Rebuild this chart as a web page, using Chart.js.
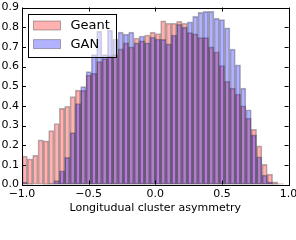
<!DOCTYPE html>
<html>
<head>
<meta charset="utf-8">
<script src="https://cdn.jsdelivr.net/npm/chart.js@4.4.0/dist/chart.umd.min.js"></script>
<style>
  html, body { margin: 0; padding: 0; background: #fff; }
  #wrap { width: 296px; height: 240px; }
</style>
</head>
<body>
<div id="wrap"><canvas id="histChart" width="296" height="240"></canvas></div>
<script>
// histogram bins: 50 bins of width 0.04 from -1 to 1
const binStart = -1.0;
const binWidth = 0.04;
const seriesNames = ['Geant', 'GAN'];

const geantValues = [
  0.145, 0.130, 0.148, 0.227, 0.222, 0.274, 0.310, 0.387, 0.398, 0.447,
  0.480, 0.479, 0.556, 0.565, 0.625, 0.640, 0.655, 0.660, 0.690, 0.720,
  0.700, 0.745, 0.730, 0.760, 0.775, 0.768, 0.832, 0.820, 0.820, 0.830,
  0.820, 0.772, 0.766, 0.747, 0.747, 0.700, 0.675, 0.605, 0.525, 0.490,
  0.460, 0.400, 0.337, 0.281, 0.196, 0.102, 0.053, 0.013, 0.005, 0.000
];
const ganValues = [
  0.012, 0.003, 0.000, 0.000, 0.002, 0.005, 0.020, 0.070, 0.138, 0.264,
  0.412, 0.498, 0.574, 0.660, 0.780, 0.660, 0.785, 0.740, 0.775, 0.765,
  0.775, 0.720, 0.755, 0.720, 0.750, 0.740, 0.738, 0.715, 0.760, 0.815,
  0.800, 0.827, 0.855, 0.875, 0.880, 0.880, 0.845, 0.838, 0.796, 0.688,
  0.608, 0.490, 0.380, 0.252, 0.141, 0.048, 0.013, 0.003, 0.000, 0.000
];

const xTicks = [-1.0, -0.5, 0.0, 0.5, 1.0];
const yTicks = [0.0, 0.1, 0.2, 0.3, 0.4, 0.5, 0.6, 0.7, 0.8, 0.9];

const binCenters = geantValues.map((_, i) => binStart + binWidth * (i + 0.5));

function toPoints(values) {
  return values.map((v, i) => ({ x: binCenters[i], y: v }));
}

function fmt(v) {
  const s = Math.abs(v).toFixed(1);
  return v < -1e-9 ? '\u2212' + s : s;
}

// frame + inward ticks on all four sides, like matplotlib classic
const framePlugin = {
  id: 'frame',
  afterDatasetsDraw(chart) {
    const { ctx, chartArea: a, scales } = chart;
    ctx.save();
    ctx.strokeStyle = '#000';
    ctx.lineWidth = 1;
    ctx.beginPath();
    xTicks.forEach(v => {
      const x = Math.round(scales.x.getPixelForValue(v)) + 0.5;
      ctx.moveTo(x, a.bottom); ctx.lineTo(x, a.bottom - 4);
      ctx.moveTo(x, a.top); ctx.lineTo(x, a.top + 4);
    });
    yTicks.forEach(v => {
      const y = Math.round(scales.y.getPixelForValue(v)) + 0.5;
      ctx.moveTo(a.left, y); ctx.lineTo(a.left + 4, y);
      ctx.moveTo(a.right, y); ctx.lineTo(a.right - 4, y);
    });
    ctx.stroke();
    ctx.strokeRect(Math.round(a.left) + 0.5, Math.round(a.top) + 0.5,
      Math.round(a.right - a.left), Math.round(a.bottom - a.top));
    ctx.restore();
  }
};

// legend box inside the axes, upper left
const boxLegend = {
  id: 'boxLegend',
  afterDraw(chart) {
    const ctx = chart.ctx;
    ctx.save();
    ctx.fillStyle = 'rgba(255,255,255,0.5)';
    ctx.fillRect(28.5, 14.5, 88, 43);
    ctx.strokeStyle = '#000';
    ctx.lineWidth = 1;
    ctx.strokeRect(28.5, 14.5, 88, 43);
    ctx.font = '13px "DejaVu Sans"';
    ctx.textBaseline = 'middle';
    chart.data.datasets.forEach((ds, i) => {
      const y = 21 + i * 18.6;
      ctx.fillStyle = ds.backgroundColor;
      ctx.fillRect(33.5, y, 27, 9);
      ctx.strokeStyle = ds.borderColor;
      ctx.strokeRect(33.5, y, 27, 9);
      ctx.fillStyle = '#000';
      ctx.fillText(ds.label, 70.5, y + 5);
    });
    ctx.restore();
  }
};

const ctx = document.getElementById('histChart').getContext('2d');
new Chart(ctx, {
  type: 'bar',
  data: {
    datasets: [
      {
        label: seriesNames[0],
        data: toPoints(geantValues),
        backgroundColor: 'rgba(255,0,0,0.3)',
        borderColor: 'rgba(0,0,0,0.3)',
        borderWidth: 1,
        borderSkipped: false,
        grouped: false,
        order: 2,
        barPercentage: 1,
        categoryPercentage: 1
      },
      {
        label: seriesNames[1],
        data: toPoints(ganValues),
        backgroundColor: 'rgba(0,0,255,0.3)',
        borderColor: 'rgba(0,0,0,0.3)',
        borderWidth: 1,
        borderSkipped: false,
        grouped: false,
        order: 1,
        barPercentage: 1,
        categoryPercentage: 1
      }
    ]
  },
  options: {
    responsive: false,
    devicePixelRatio: 1,
    animation: false,
    layout: { padding: { top: 7.5, right: 7.4, left: 0, bottom: 0 } },
    plugins: {
      legend: { display: false },
      tooltip: { enabled: false }
    },
    scales: {
      x: {
        type: 'linear',
        min: -1,
        max: 1,
        offset: false,
        afterBuildTicks: s => { s.ticks = xTicks.map(v => ({ value: v })); },
        afterFit: s => { s.height = 55.5; s.paddingLeft = 0; s.paddingRight = 0; },
        grid: { display: false, drawTicks: false, offset: false },
        border: { display: false },
        ticks: {
          padding: 3,
          maxRotation: 0,
          autoSkip: false,
          color: '#000',
          font: { family: 'DejaVu Sans', size: 11 },
          callback: v => fmt(v)
        },
        title: {
          display: true,
          text: 'Longitudual cluster asymmetry',
          color: '#000',
          font: { family: 'DejaVu Sans', size: 11 },
          padding: { top: 0, bottom: 25 }
        }
      },
      y: {
        min: 0,
        max: 0.9,
        afterBuildTicks: s => { s.ticks = yTicks.map(v => ({ value: v })); },
        afterFit: s => { s.width = 22; s.paddingTop = 0; s.paddingBottom = 0; },
        grid: { display: false, drawTicks: false },
        border: { display: false },
        ticks: {
          padding: 3,
          autoSkip: false,
          color: '#000',
          font: { family: 'DejaVu Sans', size: 11 },
          callback: v => fmt(v)
        }
      }
    }
  },
  plugins: [framePlugin, boxLegend]
});
</script>
</body>
</html>
